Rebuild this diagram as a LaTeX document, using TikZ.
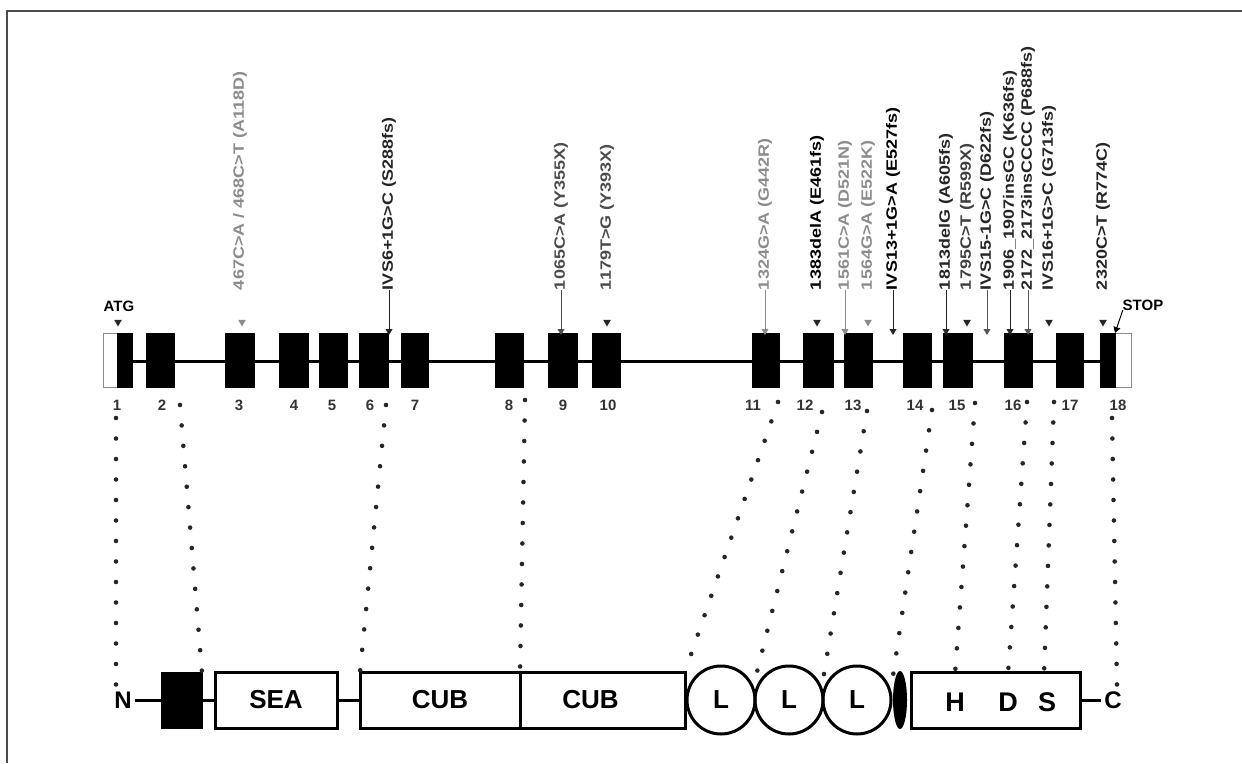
\documentclass[tikz,border=0pt]{standalone}
\usepackage{graphicx}
\usepackage{fontspec}
\setmainfont{Liberation Sans}
\usetikzlibrary{arrows.meta,shapes.geometric}
\newcommand{\mutlab}[1]{\scalebox{1.2}[1]{#1}}
\begin{document}
\begin{tikzpicture}[x=1pt,y=-1pt,
  every node/.style={inner sep=0pt,outer sep=0pt},
  exon/.style={fill=black,draw=black,line width=0.5pt,minimum height=54pt,minimum width=#1},
  utr/.style={fill=white,draw=black!45,line width=1pt,minimum height=54pt,minimum width=#1},
  enum/.style={font=\fontsize{15}{15}\selectfont\bfseries,text=black!80},
  mut/.style={rotate=90,anchor=west,font=\fontsize{15}{15}\selectfont\bfseries,text=black!85},
  mutg/.style={mut,text=black!45},
  tri/.style={regular polygon,regular polygon sides=3,shape border rotate=180,fill=black!85,minimum size=9pt},
  trig/.style={tri,fill=black!45},
  arr/.style={line width=1pt,draw=black!85,-{Triangle[width=7pt,length=6pt]}},
  arrg/.style={arr,draw=black!45},
  dom/.style={draw=black,line width=3pt,minimum height=56pt,font=\fontsize{26}{26}\selectfont\bfseries},
  circ/.style={circle,draw=black,line width=3pt,minimum size=68pt,font=\fontsize{26}{26}\selectfont\bfseries},
  dtext/.style={font=\fontsize{27}{27}\selectfont\bfseries},
  term/.style={font=\fontsize{24}{24}\selectfont\bfseries},
  link/.style={line width=4.6pt,line cap=round,dash pattern=on 0pt off 20.5pt,black!85},
  bb/.style={line width=3pt}
]
\useasboundingbox (0,0) rectangle (1242,763);
% frame
\draw[line width=2pt,black!70] (7,763) -- (7,11) -- (1242,11);

% ---------------- gene ----------------
\node[utr=14pt] (u1) at (110,360) {};
\node[utr=16pt] (u18) at (1123,360) {};
\coordinate (g0) at (117,361);
\coordinate (g1) at (1100,361);
\draw[line width=3pt] (g0) -- (g1);
\node[exon=15pt] (e1) at (124.5,360) {};
\node[exon=28pt] (e2) at (160,360) {};
\node[exon=29pt] (e3) at (239.5,360) {};
\node[exon=29pt] (e4) at (293.5,360) {};
\node[exon=28pt] (e5) at (333,360) {};
\node[exon=29pt] (e6) at (373.5,360) {};
\node[exon=27pt] (e7) at (414.5,360) {};
\node[exon=28pt] (e8) at (509,360) {};
\node[exon=29pt] (e9) at (562.5,360) {};
\node[exon=28pt] (e10) at (606,360) {};
\node[exon=27pt] (e11) at (765.5,360) {};
\node[exon=30pt] (e12) at (818,360) {};
\node[exon=28pt] (e13) at (858,360) {};
\node[exon=28pt] (e14) at (917,360) {};
\node[exon=29pt] (e15) at (957.5,360) {};
\node[exon=28pt] (e16) at (1018,360) {};
\node[exon=27pt] (e17) at (1069.5,360) {};
\node[exon=15pt] (e18) at (1107.5,360) {};

% exon numbers
\foreach \n/\x in {1/117,2/162,3/239,4/294,5/332,6/370,7/415,8/509,9/563,10/608,11/753,12/805,13/853,14/915,15/957,16/1013,17/1070,18/1118}
  \node[enum] (n\n) at (\x,405) {\n};

% ATG / STOP
\node[font=\fontsize{15}{15}\selectfont\bfseries] (atg) at (119,306) {ATG};
\node[tri] (tatg) at (118,322) {};
\node[font=\fontsize{15}{15}\selectfont\bfseries] (stop) at (1143,305) {STOP};
\draw[line width=1pt,-{Triangle[width=7pt,length=6pt]}] (stop.south west) -- (u18.north west);

% ---------------- mutation labels ----------------
\node[mutg] (m3) at (240,290) {\mutlab{467C>A / 468C>T (A118D)}};
\node[trig] (t3) at (242,322) {};
\node[mut] (m6) at (389,290) {\mutlab{IVS6+1G>C (S288fs)}};
\draw[arr] (m6.west) -- ([yshift=-2pt]m6.west |- e6.north);
\node[mut,text=black!70] (m9) at (561,290) {\mutlab{1065C>A (Y355X)}};
\draw[arr,draw=black!70] (m9.west) -- ([yshift=-2pt]m9.west |- e9.north);
\node[mut,text=black!70] (m10) at (607,290) {\mutlab{1179T>G (Y393X)}};
\node[tri] (t10) at (607,322) {};
\node[mutg] (m11) at (765,290) {\mutlab{1324G>A (G442R)}};
\draw[arrg] (m11.west) -- ([yshift=-2pt]m11.west |- e11.north);
\node[mut,text=black] (m12) at (817,290) {\mutlab{1383delA (E461fs)}};
\node[tri] (t12) at (817,322) {};
\node[mutg] (m13a) at (845,290) {\mutlab{1561C>A (D521N)}};
\draw[arrg] (m13a.west) -- ([yshift=-2pt]m13a.west |- e13.north);
\node[mutg] (m13b) at (868,290) {\mutlab{1564G>A (E522K)}};
\node[trig] (t13b) at (868,322) {};
\node[mut,text=black] (m13c) at (893,290) {\mutlab{IVS13+1G>A (E527fs)}};
\draw[arr] (m13c.west) -- ([yshift=-2pt]m13c.west |- e13.north);
\node[mut] (m15a) at (946,290) {\mutlab{1813delG (A605fs)}};
\draw[arr] (m15a.west) -- ([yshift=-2pt]m15a.west |- e15.north);
\node[mut,text=black!75] (m15b) at (967,290) {\mutlab{1795C>T (R599X)}};
\node[tri] (t15b) at (967,322) {};
\node[mut] (m15c) at (987,290) {\mutlab{IVS15-1G>C (D622fs)}};
\draw[arr,draw=black!65] (m15c.west) -- ([yshift=-2pt]m15c.west |- e15.north);
\node[mut] (m16a) at (1010,290) {\mutlab{1906\_1907insGC (K636fs)}};
\draw[arr] (m16a.west) -- ([yshift=-2pt]m16a.west |- e16.north);
\node[mut] (m16b) at (1028,290) {\mutlab{2172\_2173insCCCC (P688fs)}};
\draw[arr,draw=black!65] (m16b.west) -- ([yshift=-2pt]m16b.west |- e16.north);
\node[mut] (m16c) at (1049,290) {\mutlab{IVS16+1G>C (G713fs)}};
\node[tri] (t16c) at (1049,322) {};
\node[mut] (m18) at (1103,290) {\mutlab{2320C>T (R774C)}};
\node[tri] (t18) at (1103,322) {};

% ---------------- protein domains ----------------
\node[term] (N) at (123,700) {N};
\node[fill=black,draw=black,line width=1pt,minimum width=41pt,minimum height=56pt] (tm) at (181.5,700) {};
\node[dom,minimum width=122pt] (sea) at (276,700) {SEA};
\node[dom,minimum width=160pt] (cub1) at (440,700) {CUB};
\node[dom,minimum width=165pt] (cub2) at (602.5,700) {\hspace*{-24pt}CUB};
\node[circ] (l1) at (721,700) {L};
\node[circ] (l2) at (789,700) {L};
\node[circ] (l3) at (857,700) {L};
\node[ellipse,fill=black,minimum width=14pt,minimum height=58pt] (ell) at (900,700) {};
\node[dom,minimum width=169pt] (hds) at (995.5,700) {};
\node[dtext] (h) at (955,702) {H};
\node[dtext] (d) at (1008,702) {D};
\node[dtext] (s) at (1047,702) {S};
\node[term] (C) at (1113,700) {C};
\draw[bb,shorten <=3pt] (N) -- (tm);
\draw[bb] (tm) -- (sea);
\draw[bb] (sea) -- (cub1);
\draw[bb,shorten >=3pt] (hds) -- (C);

% ---------------- dotted correspondences ----------------
\coordinate (s1) at (116,418);  \coordinate (d1) at (116,686);
\coordinate (s2) at (180,405);
\coordinate (s3) at (386,405);
\coordinate (s4) at (525,400);
\coordinate (s5) at (778,402);
\coordinate (s6) at (822,412);  \coordinate (d6) at (755,680);
\coordinate (s7) at (867,411);  \coordinate (d7) at (823,680);
\coordinate (s8) at (932,410);  \coordinate (d8) at (893,676);
\coordinate (s9) at (975,403);  \coordinate (d9) at (955,674);
\coordinate (s10) at (1027,402); \coordinate (d10) at (1008,674);
\coordinate (s11) at (1054,402); \coordinate (d11) at (1044,674);
\coordinate (s12) at (1112,418); \coordinate (d12) at (1117,686);
\draw[link] (s1) -- (d1);
\draw[link] (s2) -- (tm.north east);
\draw[link] (s3) -- (cub1.north west);
\draw[link] (s4) -- (cub1.north east);
\draw[link] (s5) -- (cub2.north east);
\draw[link] (s6) -- (d6);
\draw[link] (s7) -- (d7);
\draw[link] (s8) -- (d8);
\draw[link] (s9) -- (d9);
\draw[link] (s10) -- (d10);
\draw[link] (s11) -- (d11);
\draw[link] (s12) -- (d12);
\end{tikzpicture}
\end{document}
